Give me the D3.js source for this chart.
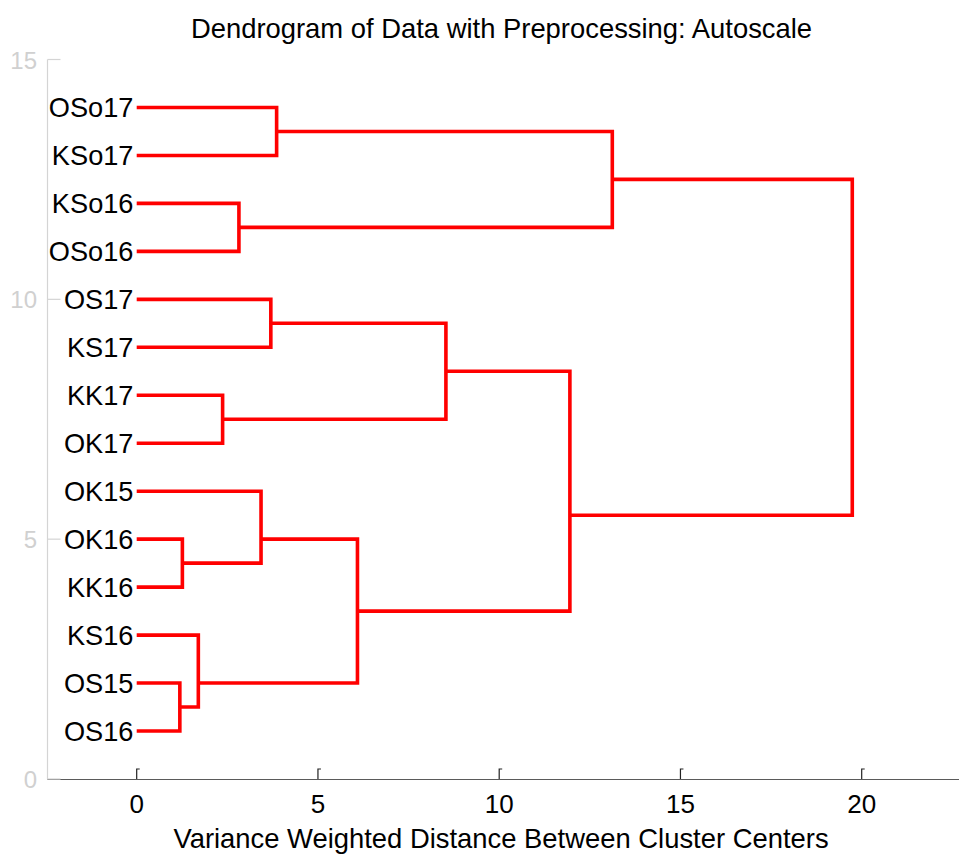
<!DOCTYPE html>
<html>
<head>
<meta charset="utf-8">
<script src="https://cdn.jsdelivr.net/npm/d3@7"></script>
<style>
  html, body { margin: 0; padding: 0; background: #fff; }
  svg { display: block; font-family: "Liberation Sans", Arial, Helvetica, sans-serif; }
</style>
</head>
<body>
<svg id="chart" width="959" height="854"></svg>
<script>
// Leaf labels, listed from the bottom (position 1) to the top (position 14)
const leafLabels = ["OS16", "OS15", "KS16", "KK16", "OK16", "OK15", "OK17",
                    "KK17", "KS17", "OS17", "OSo16", "KSo16", "KSo17", "OSo17"];

// Linkage: each row joins two nodes (leaf index 0..13, or 14+ for earlier merges)
const mergeA      = [1, 2, 4, 5, 17, 7, 9, 20, 21, 13, 11, 23, 25];
const mergeB      = [0, 14, 3, 16, 15, 6, 8, 19, 18, 12, 10, 24, 22];
const mergeHeight = [1.19, 1.70, 1.26, 3.43, 6.09, 2.37, 3.70, 8.53, 11.95, 3.86, 2.82, 13.12, 19.74];

const xTicks = [0, 5, 10, 15, 20];
const yTicks = [0, 5, 10, 15];

const titleText = "Dendrogram of Data with Preprocessing: Autoscale";
const xLabelText = "Variance Weighted Distance Between Cluster Centers";

const svg = d3.select("#chart");

const x = d3.scaleLinear().domain([0, 20]).range([136.7, 861.7]);
const y = d3.scaleLinear().domain([0, 15]).range([779, 59.5]);
const axisLeft = 47.5, axisRight = 959;

// Node positions: leaves sit at integer positions; a cluster sits at the mean of its leaves
const nLeaf = leafLabels.length;
const nodes = leafLabels.map((name, i) => ({ h: 0, leaves: [i + 1] }));
mergeA.forEach((a, k) => {
  const b = mergeB[k];
  nodes.push({ h: mergeHeight[k], a, b, leaves: nodes[a].leaves.concat(nodes[b].leaves) });
});
nodes.forEach(n => { n.pos = d3.mean(n.leaves); });

// Axes
svg.append("line")
  .attr("x1", axisLeft).attr("x2", axisLeft)
  .attr("y1", y(15)).attr("y2", y(0))
  .attr("stroke", "#d4d4d4").attr("stroke-width", 1.2);

svg.append("line")
  .attr("x1", axisLeft).attr("x2", axisRight)
  .attr("y1", y(0) + 0.5).attr("y2", y(0) + 0.5)
  .attr("stroke", "#5a5a5a").attr("stroke-width", 1.2);

// y ticks (light grey)
svg.append("g").selectAll("path").data(yTicks).join("path")
  .attr("d", d => `M${axisLeft},${y(d)}H${axisLeft + 13}`)
  .attr("stroke", "#d4d4d4").attr("stroke-width", 1.2).attr("fill", "none");

svg.append("g").selectAll("text").data(yTicks).join("text")
  .attr("x", 37).attr("y", d => y(d) + 9)
  .attr("text-anchor", "end")
  .attr("font-size", 24)
  .attr("fill", "#d0d0d0")
  .text(d => d);

// x ticks
svg.append("g").selectAll("path").data(xTicks).join("path")
  .attr("d", d => `M${x(d)},${y(0)}V${y(0) - 10}h3`)
  .attr("stroke", "#222").attr("stroke-width", 1.2).attr("fill", "none");

svg.append("g").selectAll("text").data(xTicks).join("text")
  .attr("x", d => x(d)).attr("y", 813)
  .attr("text-anchor", "middle")
  .attr("font-size", 26)
  .attr("fill", "#000")
  .text(d => d);

// Dendrogram links
const linkPath = d3.path();
nodes.slice(nLeaf).forEach(n => {
  const A = nodes[n.a], B = nodes[n.b];
  linkPath.moveTo(x(A.h), y(A.pos));
  linkPath.lineTo(x(n.h), y(A.pos));
  linkPath.lineTo(x(n.h), y(B.pos));
  linkPath.lineTo(x(B.h), y(B.pos));
});
svg.append("path")
  .attr("d", linkPath.toString())
  .attr("fill", "none")
  .attr("stroke", "#ff0000")
  .attr("stroke-width", 3.6)
  .attr("stroke-linejoin", "miter")
  .attr("stroke-linecap", "butt");

// Leaf labels
svg.append("g").selectAll("text").data(nodes.slice(0, nLeaf)).join("text")
  .attr("x", 133.5).attr("y", (d) => y(d.pos) + 9.5)
  .attr("text-anchor", "end")
  .attr("font-size", 27.2)
  .attr("fill", "#000")
  .text((d, i) => leafLabels[i]);

// Title and axis label
svg.append("text")
  .attr("x", 501.5).attr("y", 38)
  .attr("text-anchor", "middle")
  .attr("font-size", 27.4)
  .text(titleText);

svg.append("text")
  .attr("x", 501).attr("y", 848)
  .attr("text-anchor", "middle")
  .attr("font-size", 27.4)
  .text(xLabelText);
</script>
</body>
</html>
